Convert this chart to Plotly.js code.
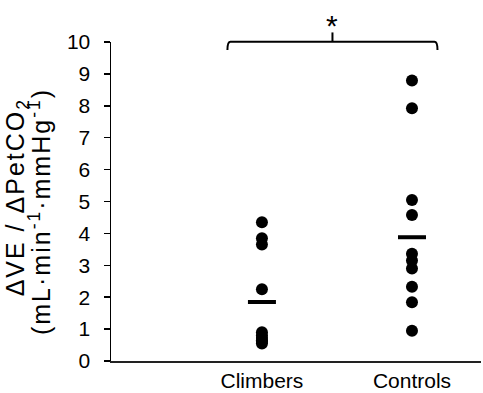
<!DOCTYPE html>
<html>
<head>
<meta charset="utf-8">
<script src="https://cdn.plot.ly/plotly-3.0.1.min.js"></script>
<style>
html,body{margin:0;padding:0;background:#fff;}
#chart{width:483px;height:393px;}
.ttl .annotation-text{letter-spacing:2px;}
</style>
</head>
<body>
<div id="chart"></div>
<script>
var groups = ["Climbers", "Controls"];
var groupPos = [0, 1];
var climbers = [4.35, 3.85, 3.65, 2.25, 0.9, 0.8, 0.72, 0.65, 0.6, 0.55];
var controls = [8.79, 7.92, 5.05, 4.58, 3.36, 3.15, 2.9, 2.33, 1.84, 0.95];
var means = [1.85, 3.88];
var yTicks = [0,1,2,3,4,5,6,7,8,9,10];
var titleLine1 = 'ΔVE / ΔPetCO<sub>2</sub>';
var titleLine2 = '(mL·min<sup>-1</sup>·mmHg<sup>-1</sup>)';

function rep(v, n){ var a=[]; for(var i=0;i<n;i++) a.push(v); return a; }

var traces = [
  {x: rep(groupPos[0], climbers.length), y: climbers, type:'scatter', mode:'markers',
   marker:{color:'#000', size:12}, hoverinfo:'skip', cliponaxis:false},
  {x: rep(groupPos[1], controls.length), y: controls, type:'scatter', mode:'markers',
   marker:{color:'#000', size:12}, hoverinfo:'skip', cliponaxis:false},
  {x: groupPos, y: means, type:'scatter', mode:'markers',
   marker:{symbol:'line-ew', size:20, color:'#000', line:{color:'#000', width:4}}, hoverinfo:'skip', cliponaxis:false}
];

var xl = -0.23, xr = 1.17, xm = (groupPos[0]+groupPos[1])/2 - 0.03;
var layout = {
  width:483, height:393,
  margin:{l:111, r:2, t:42, b:32},
  paper_bgcolor:'#fff', plot_bgcolor:'#fff',
  showlegend:false,
  font:{family:'Liberation Sans, Arial, sans-serif', color:'#000'},
  xaxis:{range:[-1.006, 1.46], tickvals:groupPos, ticktext:groups, showgrid:false, zeroline:false,
         showline:true, linecolor:'#222', linewidth:2, ticks:'', tickfont:{size:21, color:'#000'}},
  yaxis:{range:[0,10], tickvals:yTicks, showgrid:false, zeroline:false, showline:true, linecolor:'#000', linewidth:1.5,
         ticks:'outside', ticklen:6, tickwidth:1.5, tickcolor:'#000', tickfont:{size:21, color:'#000'},
         ticklabelstandoff:9},
  shapes:[
    {type:'path', xref:'x', yref:'paper',
     path:'M '+xl+' 0.975 Q '+xl+' 1.001 '+(xl+0.02)+' 1.001 L '+(xr-0.02)+' 1.001 Q '+xr+' 1.001 '+xr+' 0.975',
     line:{color:'#000', width:2}},
    {type:'line', xref:'x', yref:'paper', x0:xm, x1:xm, y0:1.001, y1:1.03, line:{color:'#000', width:2}}
  ],
  annotations:[
    {text:'*', xref:'x', yref:'paper', x:xm, y:1.03, yanchor:'bottom', showarrow:false, font:{size:30, color:'#000'}, yshift:-12},
    {text:titleLine1, xref:'paper', yref:'paper', x:-0.254, y:0.513, xanchor:'center', yanchor:'middle', textangle:-90,
     showarrow:false, font:{size:25, color:'#000'}},
    {text:titleLine2, xref:'paper', yref:'paper', x:-0.192, y:0.47, xanchor:'center', yanchor:'middle', textangle:-90,
     showarrow:false, font:{size:25, color:'#000'}}
  ]
};
Plotly.newPlot('chart', traces, layout, {staticPlot:true, displayModeBar:false}).then(function(){
  var anns = document.querySelectorAll('.annotation');
  for (var i=1;i<anns.length;i++) anns[i].classList.add('ttl');
});
</script>
</body>
</html>
